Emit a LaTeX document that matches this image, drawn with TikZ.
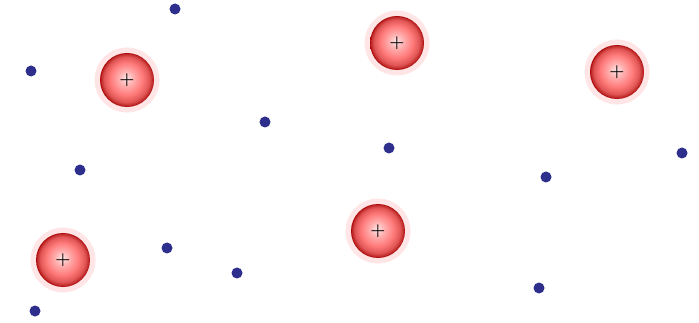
\documentclass[tikz,border=0pt]{standalone}
\usepackage{tikz}
\usetikzlibrary{positioning}

\pgfdeclareradialshading{ionball}{\pgfpoint{-1bp}{2bp}}{%
  color(0bp)=(red!10!white); color(7bp)=(red!32!white);
  color(15bp)=(red!52!white); color(21bp)=(red!62!white!88!black);
  color(24bp)=(red!70!black!85!white); color(25bp)=(red!65!black); color(30bp)=(red!65!black)}
\definecolor{elblue}{RGB}{46,46,140}

\begin{document}
\begin{tikzpicture}[x=1pt,y=-1pt,
    ion/.style={circle,minimum size=54pt,inner sep=0pt,shading=ionball,
      preaction={draw=red!10,line width=11pt},font=\LARGE\bfseries},
    electron/.style={circle,minimum size=11pt,inner sep=0pt,fill=elblue}]
  \useasboundingbox[fill=white] (0,0) rectangle (699,323);
  \foreach \x/\y/\n in {127/80/a, 397/43/b, 617/72/c, 378/231/d, 63/260/e}{
    \node[ion] (ion-\n) at (\x,\y){+};
  }
  \foreach \x/\y/\n in {175/9/1, 31/71/2, 265/122/3, 80/170/4, 389/148/5, 546/177/6,
      682/153/7, 167/248/8, 237/273/9, 539/288/10, 35/311/11}{
    \node[electron] (el-\n) at (\x,\y){};
  }
\end{tikzpicture}
\end{document}
